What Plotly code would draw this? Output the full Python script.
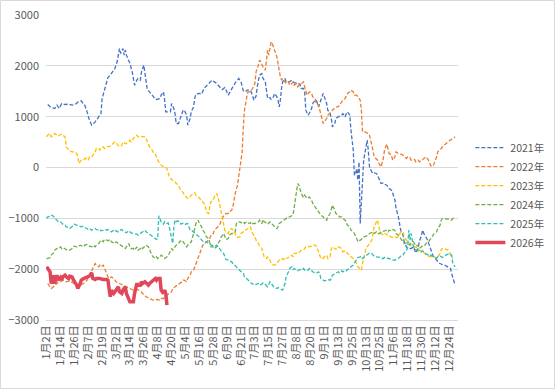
import datetime as dt
import plotly.graph_objects as go

# ---- categories (month-day of the trading calendar, holidays removed) ----
EXCLUDED = {(1, 1), (4, 4), (5, 1), (5, 2), (10, 1), (10, 2), (10, 3), (10, 4), (10, 5), (10, 6)}
CATS = []
d = dt.date(2024, 1, 1)
while d.year == 2024:
    if (d.month, d.day) not in EXCLUDED:
        CATS.append(f"{d.month}月{d.day}日")
    d += dt.timedelta(days=1)
TICK_LABELS = CATS[::12]

SERIES_NAMES = ["2021年", "2022年", "2023年", "2024年", "2025年", "2026年"]

# ---- series: category index -> value ----
IDX_2021 = [1,4,7,9,11,13,16,19,22,25,27,30,32,33,35,37,39,42,45,47,48,50,51,52,53,55,57,59,61,62,63,64,66,67,68,69,71,72,74,76,78,79,81,82,84,85,86,87,89,92,94,95,98,99,101,102,103,105,107,108,110,111,112,114,115,117,118,119,121,122,124,125,127,128,129,132,134,136,138,140,142,143,145,147,150,152,154,157,159,161,163,165,166,168,169,170,172,173,176,178,179,181,182,184,186,187,189,190,191,193,194,196,197,199,200,201,202,203,204,206,207,209,210,212,213,214,216,217,219,220,222,223,224,226,227,229,230,232,233,235,236,237,239,240,242,243,245,246,247,249,250,252,253,255,256,258,259,260,262,263,265,266,267,268,269,270,271,272,273,274,275,276,277,278,279,281,282,283,285,286,288,289,291,292,294,295,296,298,299,301,302,304,305,306,308,309,311,312,314,315,317,318,319,321,322,324,325,326,327,329,330,332,333,334,336,337,339,340,342,343,344,346,347,349,350,352,353]
VAL_2021 = [1239,1180,1160,1226,1160,1259,1239,1246,1226,1246,1285,1311,1246,1226,1095,931,833,898,997,1062,1357,1521,1587,1718,1770,1816,1882,1947,2079,2243,2341,2243,2341,2210,2308,2210,2111,2046,1882,1620,1718,1751,1718,1882,2013,1816,1652,1534,1488,1390,1344,1338,1357,1423,1488,1325,1095,1095,1095,1259,1160,1062,866,866,931,1095,1128,1128,1029,833,964,1095,1193,1357,1443,1456,1443,1554,1600,1652,1685,1718,1685,1652,1574,1534,1574,1423,1508,1600,1665,1718,1751,1685,1574,1508,1488,1521,1521,1423,1325,1403,1587,1816,1849,1751,1685,1456,1357,1377,1338,1390,1456,1390,1325,1193,1325,1554,1685,1751,1685,1685,1685,1718,1685,1665,1665,1652,1639,1554,1554,1488,1128,1029,1062,1160,1259,1325,1325,1193,1259,1357,1456,1390,1259,1128,1062,964,800,866,964,997,1010,1029,1062,997,1062,1095,1029,734,341,-151,-118,-20,-249,111,-1101,-708,-282,144,275,407,538,341,13,-85,-118,-105,-118,-151,-249,-315,-302,-328,-348,-380,-413,-446,-498,-643,-807,-970,-1101,-1233,-1331,-1462,-1561,-1593,-1593,-1593,-1561,-1613,-1679,-1593,-1462,-1331,-1233,-1298,-1331,-1416,-1482,-1626,-1692,-1744,-1790,-1823,-1875,-1888,-1921,-1921,-1921,-1954,-1954,-1987,-2085,-2216,-2315]

IDX_2022 = [1,3,4,6,7,9,10,12,14,17,20,23,26,27,29,32,35,37,39,40,42,43,45,46,47,49,50,52,53,55,56,58,60,63,66,69,72,75,78,81,83,86,89,92,95,98,99,101,102,104,105,106,108,109,111,112,114,115,117,118,119,121,122,124,125,127,128,129,131,132,134,135,137,138,140,141,142,144,145,147,148,150,151,153,154,155,157,158,160,161,162,163,165,166,167,168,169,170,171,173,174,176,177,178,180,181,183,184,185,186,187,188,189,190,191,192,193,194,195,196,197,199,200,201,202,203,204,206,207,209,210,212,213,214,216,217,219,220,222,223,224,225,226,227,229,230,232,233,235,236,237,239,240,242,243,245,246,247,249,250,252,253,255,256,258,259,260,262,263,265,266,268,269,271,272,273,275,277,278,279,281,282,283,285,286,288,289,291,292,294,295,296,298,299,301,302,304,305,306,308,309,311,312,314,315,317,318,319,321,322,324,325,327,328,330,331,332,334,335,337,338,340,341,342,344,345,347,348,350,351,353]
VAL_2022 = [-2282,-2347,-2380,-2347,-2315,-2282,-2249,-2249,-2216,-2249,-2236,-2269,-2315,-2347,-2315,-2282,-2216,-2118,-2020,-1954,-1888,-1921,-1954,-1921,-1954,-1921,-1987,-2085,-2151,-2184,-2151,-2184,-2249,-2282,-2315,-2347,-2380,-2413,-2400,-2426,-2479,-2544,-2577,-2610,-2597,-2610,-2577,-2577,-2544,-2511,-2479,-2479,-2446,-2380,-2347,-2347,-2315,-2282,-2249,-2216,-2216,-2249,-2184,-2118,-2052,-2020,-1954,-1888,-1790,-1692,-1593,-1528,-1495,-1462,-1429,-1397,-1331,-1298,-1233,-1200,-1167,-1102,-1036,-957,-918,-905,-905,-872,-839,-774,-643,-511,-348,-184,79,144,308,800,1128,1390,1488,1488,1521,1554,1652,1882,2013,2111,2079,2013,1980,1947,1915,2111,2308,2210,2374,2472,2439,2374,2308,2177,2046,1882,1784,1718,1751,1685,1652,1685,1620,1652,1685,1620,1652,1587,1620,1652,1685,1587,1488,1423,1456,1488,1456,1390,1357,1259,1226,1128,997,866,898,964,1029,1062,1095,1128,1161,1193,1193,1226,1292,1325,1357,1423,1456,1488,1521,1488,1423,1423,1390,1325,1128,700,700,670,669,636,472,341,210,177,144,46,13,177,341,459,374,275,243,144,210,308,275,262,262,243,223,177,210,197,144,157,157,111,144,111,144,144,177,210,144,79,33,26,79,210,308,341,374,407,439,472,505,525,551,570,603]

IDX_2023 = [0,1,3,4,6,7,9,10,12,13,14,16,17,19,20,22,23,24,26,27,28,29,30,32,33,35,36,37,39,40,42,43,45,46,47,49,50,52,53,55,56,58,59,60,62,63,65,66,68,69,71,72,73,75,76,78,79,81,82,83,85,86,88,89,91,92,94,95,96,98,99,101,102,104,105,106,108,109,111,112,114,115,117,118,119,121,122,124,125,127,128,129,131,132,134,135,137,138,140,141,142,144,145,147,148,150,151,153,154,155,157,158,160,161,163,164,165,167,168,170,171,173,174,176,177,178,180,181,183,184,186,187,188,190,191,193,194,196,197,199,200,201,203,204,206,207,209,210,212,213,214,216,217,219,220,222,223,224,226,227,229,230,232,233,235,236,237,239,240,242,243,245,246,247,249,250,252,253,255,256,258,259,260,262,263,265,266,268,269,271,272,273,275,276,278,279,281,282,283,285,286,287,288,289,291,292,294,295,296,298,299,301,302,304,305,306,308,309,311,312,314,315,317,318,319,321,322,324,325,327,328,330,331,332,334,335,337,338,340,341,342,344,345,347,348,350,351]
VAL_2023 = [603,636,669,603,636,669,636,616,649,656,636,603,407,341,328,308,308,308,275,210,79,111,144,144,177,177,144,210,210,243,308,374,374,341,374,407,374,407,407,420,439,472,505,485,439,407,439,505,472,472,505,538,505,570,603,636,603,616,616,603,603,570,472,407,354,308,262,210,144,79,46,13,13,-20,-118,-184,-236,-249,-282,-315,-348,-413,-459,-498,-544,-577,-610,-577,-544,-511,-498,-544,-577,-610,-643,-675,-741,-872,-905,-774,-675,-643,-577,-511,-577,-774,-905,-1102,-1233,-1266,-1298,-1233,-1200,-1233,-1298,-1364,-1377,-1364,-1298,-1266,-1233,-1220,-1200,-1167,-1233,-1298,-1364,-1429,-1495,-1547,-1593,-1692,-1757,-1790,-1757,-1823,-1888,-1921,-1921,-1888,-1856,-1823,-1823,-1790,-1823,-1790,-1770,-1757,-1724,-1757,-1692,-1679,-1692,-1659,-1626,-1626,-1593,-1561,-1547,-1561,-1547,-1528,-1528,-1547,-1659,-1757,-1790,-1790,-1757,-1724,-1790,-1757,-1593,-1561,-1593,-1613,-1561,-1574,-1593,-1659,-1639,-1659,-1692,-1724,-1757,-1790,-1823,-1888,-1954,-1987,-2020,-1888,-1692,-1593,-1528,-1495,-1429,-1298,-1167,-1069,-1036,-1167,-1233,-1298,-1331,-1298,-1318,-1351,-1351,-1364,-1377,-1364,-1377,-1364,-1298,-1266,-1266,-1364,-1429,-1462,-1495,-1528,-1547,-1561,-1574,-1593,-1626,-1639,-1659,-1692,-1724,-1744,-1757,-1757,-1744,-1757,-1790,-1757,-1692,-1613,-1593,-1593,-1613,-1626,-1659,-1757,-1790]

IDX_2024 = [0,1,3,4,6,7,9,10,12,13,14,16,17,19,20,22,23,24,26,27,29,30,32,33,35,36,37,39,40,42,43,45,46,47,49,50,52,53,55,56,58,59,60,62,63,65,66,68,69,71,72,73,75,76,78,79,81,82,83,85,86,88,89,91,92,94,95,96,98,99,101,102,104,105,106,108,109,111,112,114,115,117,118,119,121,122,124,125,127,128,129,131,132,134,135,137,138,140,141,142,144,145,147,148,150,151,153,154,155,157,158,160,161,163,164,165,167,168,170,171,173,174,176,177,178,180,181,183,184,186,187,188,190,191,193,194,196,197,199,200,201,203,204,206,207,209,210,212,213,214,216,217,218,219,220,222,223,224,226,227,229,230,232,233,235,236,237,239,240,242,243,245,246,247,249,250,252,253,255,256,258,259,260,262,263,265,266,268,269,271,272,273,275,276,278,279,281,282,283,285,286,288,289,291,292,294,295,296,298,299,301,302,304,305,306,308,309,311,312,314,315,317,318,319,321,322,324,325,327,328,330,331,332,334,335,337,338,340,341,342,344,345,347,348,350,351,353]
VAL_2024 = [-1790,-1790,-1770,-1724,-1679,-1626,-1593,-1593,-1561,-1593,-1574,-1593,-1613,-1639,-1626,-1593,-1561,-1547,-1561,-1561,-1528,-1541,-1561,-1528,-1515,-1528,-1547,-1561,-1528,-1561,-1528,-1495,-1462,-1429,-1462,-1416,-1429,-1443,-1416,-1462,-1482,-1495,-1462,-1495,-1528,-1561,-1574,-1593,-1561,-1495,-1561,-1593,-1593,-1626,-1561,-1626,-1593,-1561,-1593,-1561,-1528,-1561,-1626,-1724,-1757,-1790,-1757,-1790,-1757,-1724,-1757,-1790,-1757,-1724,-1692,-1593,-1626,-1561,-1528,-1495,-1462,-1429,-1462,-1495,-1561,-1528,-1495,-1462,-1298,-1200,-1102,-1036,-1102,-1167,-1233,-1298,-1364,-1397,-1495,-1561,-1561,-1593,-1561,-1495,-1429,-1364,-1298,-1364,-1416,-1397,-1331,-1298,-1298,-1266,-1102,-1069,-1069,-1088,-1069,-1102,-1069,-1088,-1102,-1069,-1102,-1102,-1088,-1069,-1036,-1102,-1023,-1069,-1088,-1115,-1069,-1102,-1134,-1167,-1200,-1167,-1102,-1069,-1036,-1003,-1003,-970,-970,-957,-938,-774,-500,-315,-348,-413,-511,-590,-544,-577,-610,-577,-643,-708,-774,-807,-872,-905,-938,-970,-1003,-1036,-970,-905,-839,-741,-839,-905,-938,-970,-970,-1003,-1036,-1102,-1134,-1167,-1233,-1266,-1298,-1397,-1462,-1429,-1416,-1377,-1364,-1351,-1331,-1298,-1266,-1266,-1298,-1266,-1298,-1298,-1266,-1252,-1233,-1233,-1266,-1233,-1246,-1220,-1233,-1298,-1331,-1364,-1416,-1462,-1495,-1482,-1495,-1528,-1495,-1462,-1495,-1547,-1528,-1593,-1561,-1528,-1528,-1495,-1462,-1429,-1397,-1331,-1298,-1266,-1200,-1134,-1036,-1003,-1003,-1003,-1016,-1023,-1036,-1003,-984]

IDX_2025 = [0,1,3,4,6,7,9,10,12,13,14,16,17,19,20,22,23,24,26,27,29,30,32,33,35,36,37,39,40,42,43,45,46,47,49,50,52,53,55,56,58,59,60,62,63,65,66,68,69,71,72,73,75,76,78,79,81,82,83,85,86,88,89,91,92,94,95,96,97,98,99,101,102,104,105,106,107,108,109,110,111,112,113,115,116,117,119,120,122,123,124,125,127,128,129,131,132,134,135,137,138,140,141,142,144,145,147,148,150,151,153,154,155,157,158,160,161,163,164,165,167,168,170,171,173,174,176,177,178,180,181,183,184,186,187,188,190,191,193,194,196,197,199,200,201,203,204,206,207,209,210,212,213,214,216,217,219,220,222,223,224,226,227,229,230,232,233,235,236,237,239,240,242,243,245,246,247,249,250,252,253,255,256,258,259,260,262,263,265,266,268,269,271,272,273,275,276,278,279,281,282,283,285,286,288,289,291,292,294,295,296,298,299,301,302,304,305,306,308,309,311,312,313,314,315,317,318,319,321,322,324,325,327,328,330,331,332,334,335,337,338,340,341,342,344,345,347,348,350,351,353]
VAL_2025 = [-1003,-970,-957,-938,-957,-1003,-1036,-1069,-1069,-1088,-1115,-1134,-1167,-1180,-1200,-1167,-1134,-1115,-1134,-1141,-1154,-1167,-1154,-1180,-1200,-1220,-1200,-1233,-1220,-1200,-1220,-1233,-1220,-1246,-1233,-1220,-1233,-1220,-1246,-1266,-1233,-1220,-1246,-1266,-1233,-1220,-1246,-1266,-1285,-1246,-1266,-1285,-1298,-1298,-1311,-1331,-1298,-1285,-1266,-1233,-1266,-1298,-1311,-1331,-1364,-1397,-1416,-1400,-950,-1036,-1069,-1115,-1069,-1102,-1088,-1167,-1298,-1429,-1495,-1167,-1036,-1069,-1049,-1069,-1115,-1102,-1088,-1115,-1102,-1167,-1233,-1233,-1266,-1285,-1298,-1331,-1364,-1429,-1443,-1482,-1462,-1495,-1508,-1528,-1547,-1561,-1528,-1561,-1613,-1639,-1692,-1757,-1810,-1823,-1836,-1856,-1888,-1921,-1954,-1987,-2020,-2052,-2085,-2151,-2184,-2216,-2249,-2282,-2295,-2282,-2302,-2282,-2315,-2295,-2269,-2282,-2315,-2347,-2249,-2282,-2347,-2367,-2380,-2361,-2380,-2400,-2413,-2282,-2151,-2052,-1987,-1954,-2006,-1987,-2020,-2033,-2006,-2020,-1987,-2020,-2006,-2020,-1987,-2033,-2052,-2072,-2085,-2052,-2085,-2184,-2216,-2229,-2216,-2203,-2216,-2184,-2118,-2085,-2072,-2052,-2072,-2033,-2052,-2020,-2033,-2006,-1987,-1954,-1921,-1888,-1823,-1770,-1757,-1744,-1790,-1757,-1724,-1705,-1679,-1692,-1724,-1744,-1757,-1757,-1770,-1790,-1790,-1770,-1770,-1790,-1790,-1810,-1823,-1823,-1810,-1790,-1770,-1744,-1724,-1679,-1639,-1561,-1233,-1429,-1298,-1561,-1593,-1613,-1639,-1659,-1659,-1639,-1679,-1705,-1724,-1744,-1724,-1757,-1770,-1790,-1757,-1744,-1757,-1770,-1744,-1724,-1705,-1692,-1724,-1888,-1954]

IDX_2026 = [0,3,4,6,7,9,10,12,13,14,16,17,19,20,22,23,26,27,29,30,32,35,37,39,40,42,43,46,49,52,53,55,56,58,59,60,62,63,65,66,68,69,71,72,73,75,76,78,79,81,82,83,85,86,88,89,91,92,94,95,96,98,99,101,102,103,104]
VAL_2026 = [-1954,-2052,-2282,-2118,-2282,-2118,-2216,-2164,-2216,-2151,-2118,-2151,-2184,-2138,-2151,-2203,-2315,-2380,-2282,-2216,-2184,-2151,-2138,-2072,-2184,-2203,-2184,-2184,-2203,-2203,-2216,-2544,-2413,-2479,-2446,-2413,-2347,-2446,-2479,-2413,-2347,-2479,-2577,-2643,-2643,-2643,-2479,-2282,-2315,-2315,-2249,-2282,-2249,-2269,-2315,-2282,-2249,-2216,-2184,-2216,-2184,-2184,-2413,-2479,-2413,-2479,-2708]

Y_TICKS = [-3000, -2000, -1000, 0, 1000, 2000, 3000]

SERIES = [
    (IDX_2021, VAL_2021, "#4472C4", 1.3, "4px,2px"),
    (IDX_2022, VAL_2022, "#ED7D31", 1.3, "4px,2px"),
    (IDX_2023, VAL_2023, "#FFC000", 1.3, "4px,2px"),
    (IDX_2024, VAL_2024, "#70AD47", 1.3, "4px,2px"),
    (IDX_2025, VAL_2025, "#2EBDB5", 1.3, "4px,2px"),
    (IDX_2026, VAL_2026, "#E0485A", 3.5, "solid"),
]

FONT = "Noto Sans CJK SC, Liberation Sans, sans-serif"
GREY = "#595959"

fig = go.Figure()
for name, (idx, vals, color, width, dash) in zip(SERIES_NAMES, SERIES):
    fig.add_trace(go.Scatter(
        x=[CATS[i] for i in idx], y=vals, name=name, mode="lines",
        line=dict(color=color, width=width, dash=dash),
    ))

fig.update_layout(
    width=555, height=389, autosize=False,
    margin=dict(l=46, r=97, t=15, b=69, autoexpand=False),
    paper_bgcolor="white", plot_bgcolor="white",
    font=dict(family=FONT, size=11, color=GREY),
    showlegend=True,
    legend=dict(x=1.03, y=0.613, xanchor="left", yanchor="top",
                font=dict(size=10.5, color=GREY), itemwidth=30,
                bgcolor="rgba(0,0,0,0)", tracegroupgap=0),
    shapes=[dict(type="rect", xref="paper", yref="paper",
                 x0=-0.1104, x1=1.2342, y0=-0.2246, y1=1.0475,
                 line=dict(color="#D9D9D9", width=1), layer="below")],
)
fig.update_xaxes(
    type="category", categoryorder="array", categoryarray=CATS,
    range=[-0.5, len(CATS) - 0.5],
    tickmode="array", tickvals=TICK_LABELS, ticktext=TICK_LABELS,
    tickangle=-90, showgrid=False, showline=True, linecolor="#D9D9D9",
    ticks="", tickfont=dict(size=11, color=GREY),
)
fig.update_yaxes(
    range=[-3000, 3000], tickmode="array", tickvals=Y_TICKS,
    showgrid=True, gridcolor="#D9D9D9", gridwidth=1, zeroline=False,
    showline=False, ticks="", tickfont=dict(size=11, color=GREY),
    ticklabelstandoff=6,
)

fig.write_html(
    "out.html",
    config={"responsive": False, "displayModeBar": False},
    post_script="document.body.style.margin='0px';document.body.style.padding='0px';",
)
